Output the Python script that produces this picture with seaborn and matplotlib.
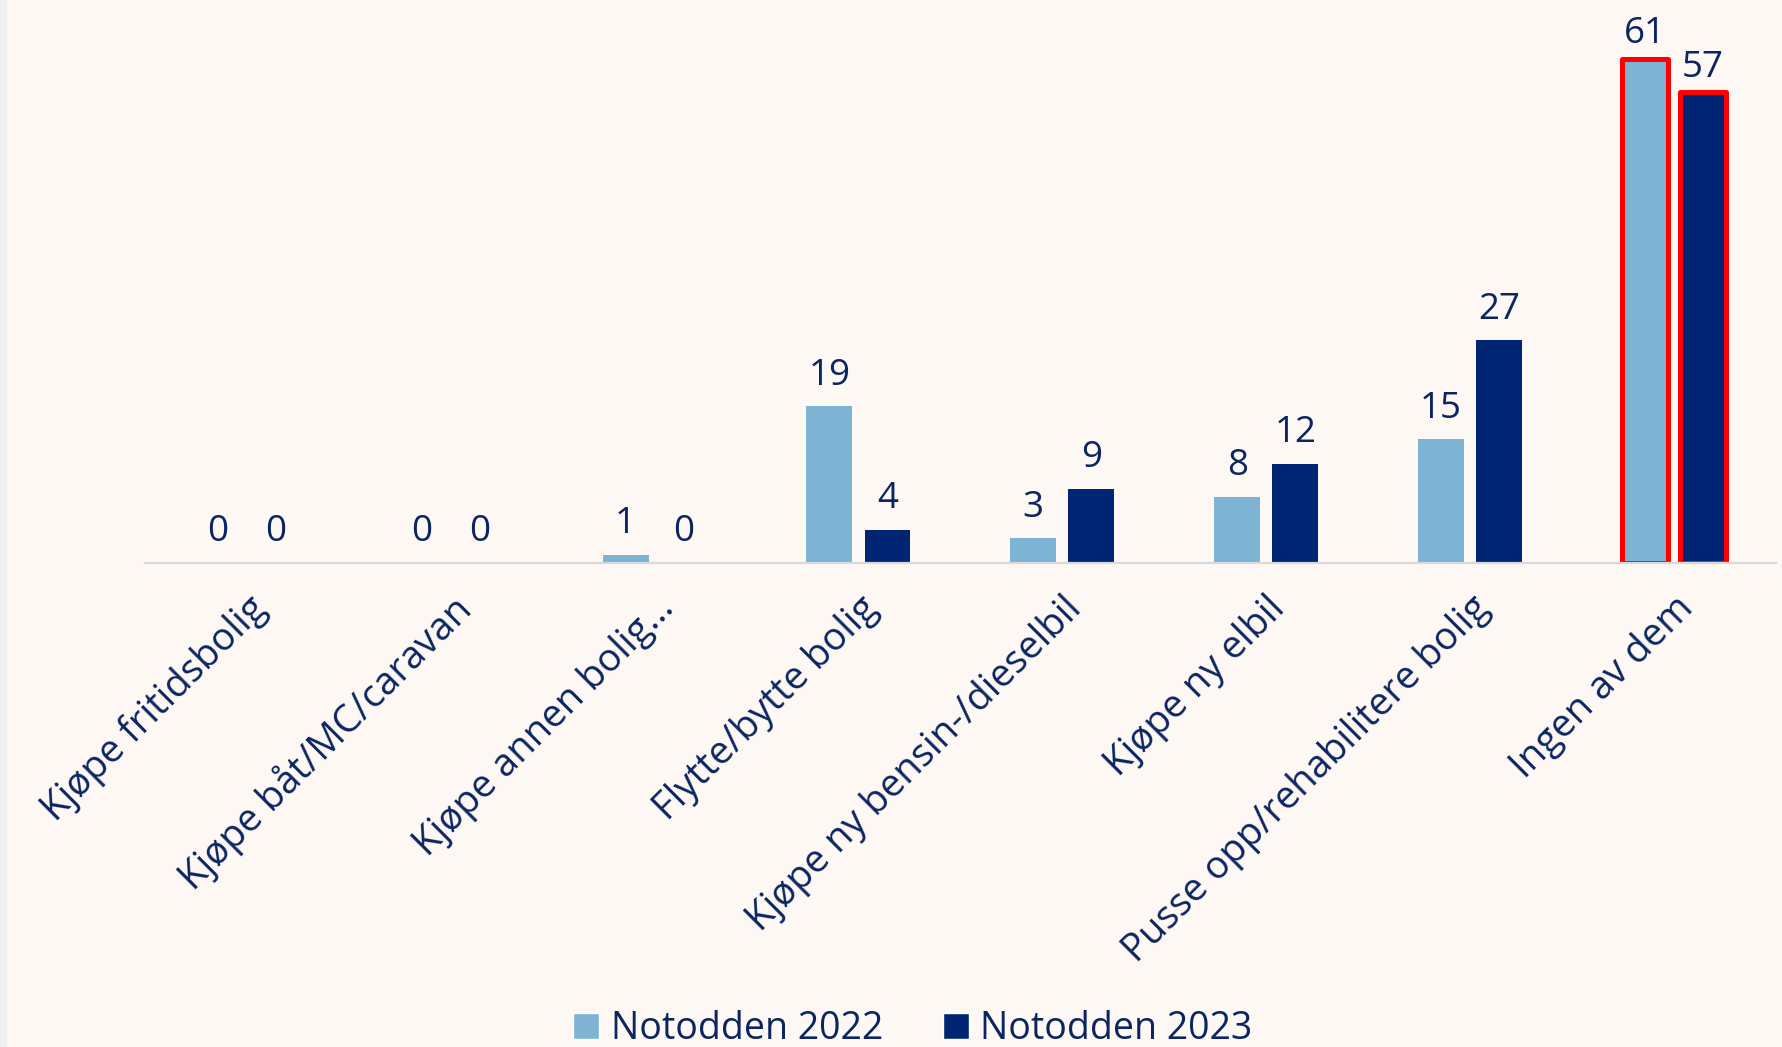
import matplotlib
matplotlib.use("Agg")
import matplotlib.pyplot as plt
import seaborn as sns
import pandas as pd
from matplotlib.patches import Rectangle

categories = ["Kjøpe fritidsbolig", "Kjøpe båt/MC/caravan", "Kjøpe annen bolig...",
              "Flytte/bytte bolig", "Kjøpe ny bensin-/dieselbil", "Kjøpe ny elbil",
              "Pusse opp/rehabilitere bolig", "Ingen av dem"]
series = ["Notodden 2022", "Notodden 2023"]
values_2022 = [0, 0, 1, 19, 3, 8, 15, 61]
values_2023 = [0, 0, 0, 4, 9, 12, 27, 57]
highlight = "Ingen av dem"

df = pd.DataFrame({
    "cat": categories * 2,
    "serie": [series[0]] * len(categories) + [series[1]] * len(categories),
    "val": values_2022 + values_2023,
})

BG = "#FDF8F4"
TXT = "#0B2560"
colors = {series[0]: "#7FB3D3", series[1]: "#002673"}

sns.set_theme(style="white")
plt.rcParams["font.family"] = ["Open Sans", "DejaVu Sans"]

fig = plt.figure(figsize=(17.83, 10.47), dpi=100, facecolor=BG)
ax = fig.add_axes([0.0813, 0.4623, 0.9147, 0.5377])
ax.set_facecolor(BG)
fig.patches.append(Rectangle((0, 0), 7 / 1783, 1, transform=fig.transFigure,
                             facecolor="#EFEFEF", edgecolor="none", zorder=0))

sns.barplot(data=df, x="cat", y="val", hue="serie", order=categories,
            hue_order=series, palette=colors, width=0.57, gap=0.21,
            saturation=1, ax=ax, legend=True, linewidth=0)

ax.set_xlim(-0.5, len(categories) - 0.5)
ax.set_ylim(0, 68.2)

hi = categories.index(highlight)
for cont in ax.containers:
    for i, bar in enumerate(cont):
        h = bar.get_height()
        off = 9
        if i == hi:
            bar.set_edgecolor("#FF0000")
            bar.set_linewidth(3.6)
            bar.set_joinstyle("round")
            off = 5
        ax.annotate(f"{int(round(h))}", (bar.get_x() + bar.get_width() / 2, h),
                    xytext=(0, off), textcoords="offset points", ha="center",
                    va="bottom", fontsize=26.5, color=TXT)

for s in ["top", "right", "left"]:
    ax.spines[s].set_visible(False)
ax.spines["bottom"].set_color("#D9D9D9")
ax.spines["bottom"].set_linewidth(1.6)
ax.set_yticks([])
ax.set_xlabel("")
ax.set_ylabel("")
ax.tick_params(axis="x", length=0, pad=19)
ax.set_xticks(range(len(categories)))
ax.set_xticklabels(categories, rotation=45, ha="right", rotation_mode="anchor",
                   fontsize=27.5, color=TXT)

ax.legend_.remove()
handles = [Rectangle((0, 0), 1, 1, facecolor=colors[s]) for s in series]
leg = fig.legend(handles, series, loc="lower center", bbox_to_anchor=(0.512, -0.033),
                 ncol=2, frameon=False, fontsize=27, handlelength=0.7,
                 handleheight=0.7, handletextpad=0.3, columnspacing=1.6)
for t in leg.get_texts():
    t.set_color(TXT)

fig.savefig("out.png", dpi=100, facecolor=BG)
